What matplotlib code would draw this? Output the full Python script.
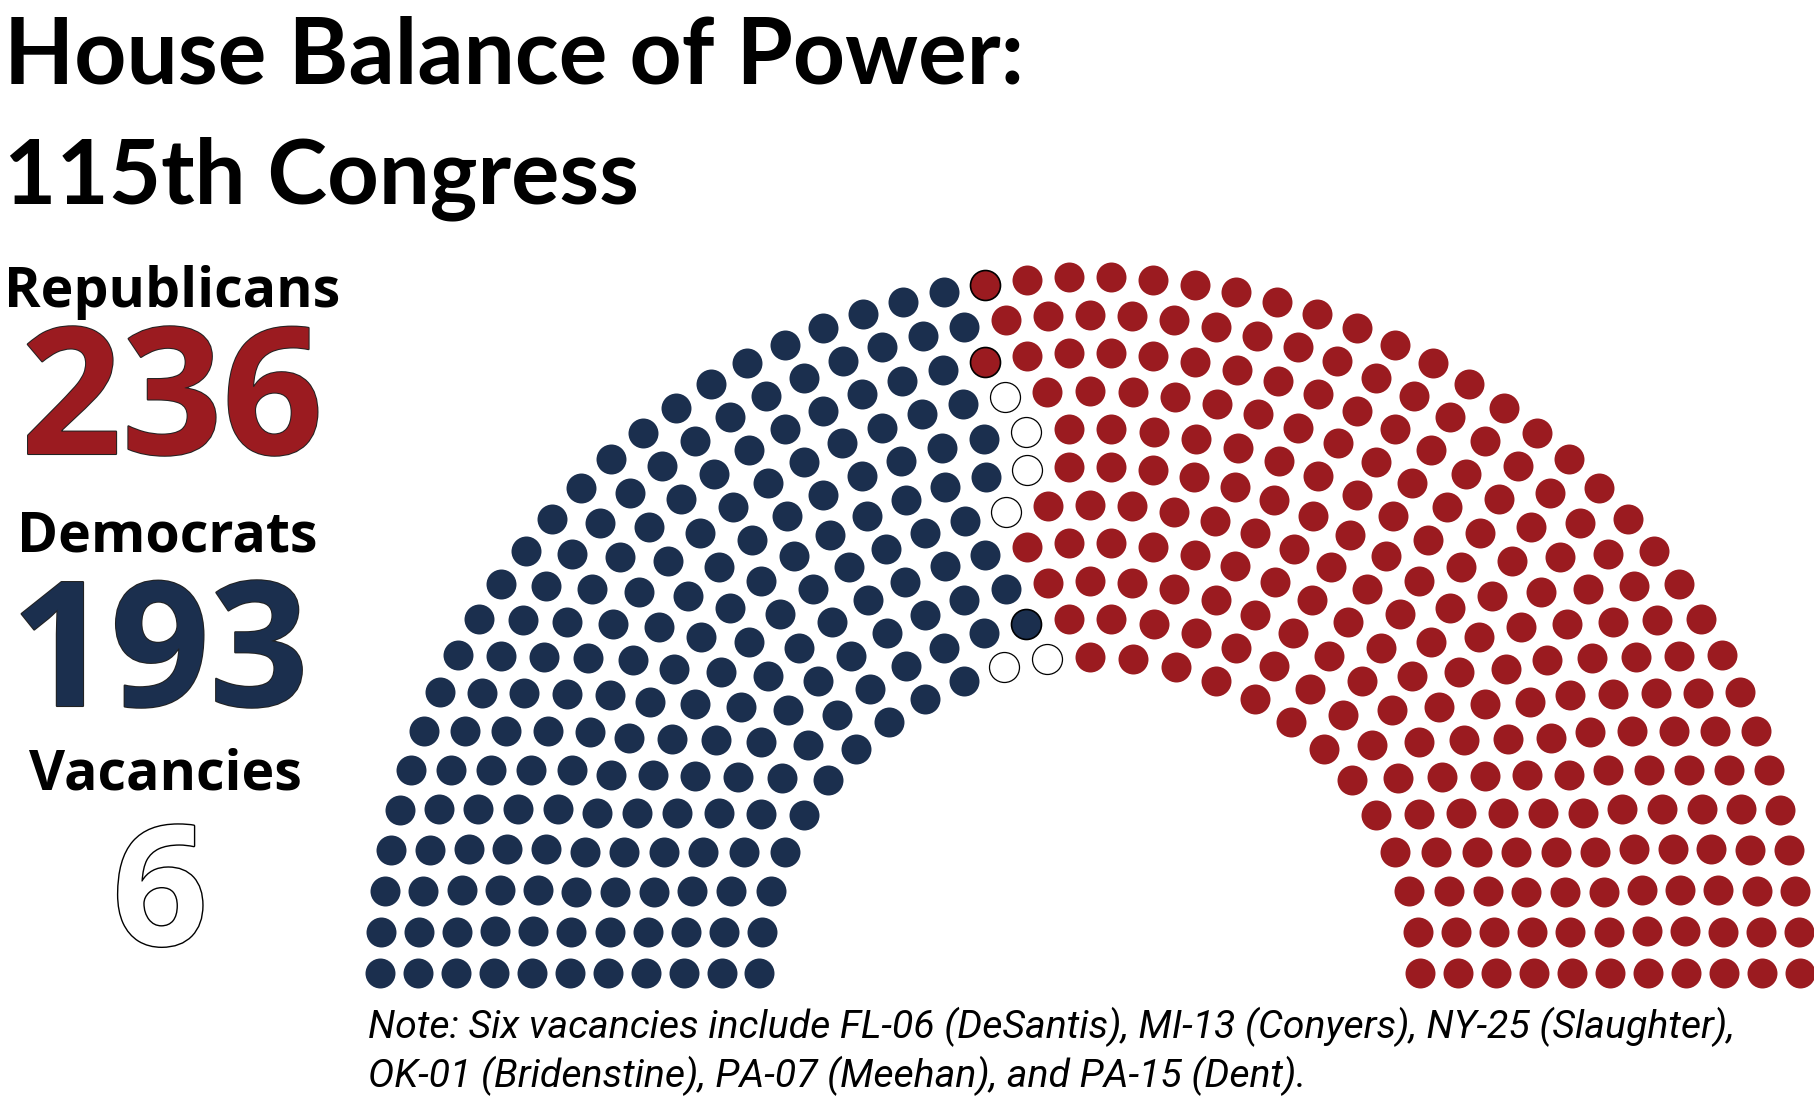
import numpy as np
import matplotlib as mpl

mpl.use('agg')

import matplotlib.pyplot as plt
import matplotlib.patheffects as pe

# seat totals, 115th Congress
parties = ['Republicans', 'Democrats', 'Vacancies']
totals = [236, 193, 6]

# seats in each arc, inner arc first
seats_per_row = [25, 28, 31, 34, 37, 40, 42, 45, 48, 51, 54]
# democrats, then vacancies, counted from the left end of each arc
dem_per_row = [10, 13, 14, 15, 16, 18, 19, 20, 21, 23, 24]
vac_per_row = [2, 0, 0, 0, 1, 1, 1, 1, 0, 0, 0]
# seats drawn with a dark ring: (arc, seat from the left)
ringed = [(1, 12), (8, 21), (10, 24)]

note_lines = [
    'Note: Six vacancies include FL-06 (DeSantis), MI-13 (Conyers), NY-25 (Slaughter),',
    'OK-01 (Bridenstine), PA-07 (Meehan), and PA-15 (Dent).',
]

REP = '#9b1b20'
DEM = '#1b2f4e'

W, H = 1815, 1099
fig = plt.figure(figsize=(W / 100, H / 100), dpi=100)
ax = fig.add_axes([0, 0, 1, 1])
ax.set_xlim(0, W)
ax.set_ylim(H, 0)
ax.axis('off')

# arc geometry (pixels)
cx, cy = 1090, 973
r_in, r_step, lift = 330.5, 37.95, 14
dot = 466  # marker area, ~30 px across

for i, n in enumerate(seats_per_row):
    r = r_in + i * r_step
    theta = np.linspace(np.pi, 0, n)
    x = cx + r * np.cos(theta)
    y = cy - (r - lift) * np.sin(theta)
    nd, nv = dem_per_row[i], vac_per_row[i]
    ax.scatter(x[:nd], y[:nd], s=dot, color=DEM, linewidths=0, zorder=3)
    ax.scatter(x[nd:nd + nv], y[nd:nd + nv], s=dot, facecolor='white',
               edgecolor='black', linewidths=0.9, zorder=3)
    ax.scatter(x[nd + nv:], y[nd + nv:], s=dot, color=REP, linewidths=0, zorder=3)
    for row, j in ringed:
        if row == i:
            fc = DEM if j < nd else REP
            ax.scatter([x[j]], [y[j]], s=dot, facecolor=fc, edgecolor='black',
                       linewidths=1.2, zorder=4)

# title
ax.text(4, 83, 'House Balance of Power:', fontsize=65.5, family='Lato',
        weight='bold', ha='left', va='baseline')
ax.text(4, 203, '115th Congress', fontsize=65, family='Lato',
        weight='bold', ha='left', va='baseline')

# party labels and counts
lab_x = 168
ring = [pe.Stroke(linewidth=1.5, foreground='#222222'), pe.Normal()]
ax.text(lab_x + 4, 307, parties[0], fontsize=40, family='Open Sans',
        weight='bold', ha='center', va='baseline')
ax.text(lab_x + 4, 454, str(totals[0]), fontsize=127, family='Open Sans',
        weight='bold', color=REP, ha='center', va='baseline', path_effects=ring)
ax.text(lab_x - 1, 552, parties[1], fontsize=40, family='Open Sans',
        weight='bold', ha='center', va='baseline')
ax.text(lab_x - 8, 706, str(totals[1]), fontsize=125, family='Open Sans',
        weight='bold', color=DEM, ha='center', va='baseline', path_effects=ring)
ax.text(lab_x - 3, 789, parties[2], fontsize=40, family='Open Sans',
        weight='bold', ha='center', va='baseline')
ax.text(lab_x - 8, 945, str(totals[2]), fontsize=120, family='Open Sans',
        weight='bold', color='white', ha='center', va='baseline',
        path_effects=[pe.Stroke(linewidth=2, foreground='black'), pe.Normal()])

# footnote
for k, line in enumerate(note_lines):
    ax.text(368, 1038 + 49 * k, line, fontsize=28.3,
            family='Roboto', style='italic', ha='left', va='baseline')

fig.savefig('out.png', dpi=100)
